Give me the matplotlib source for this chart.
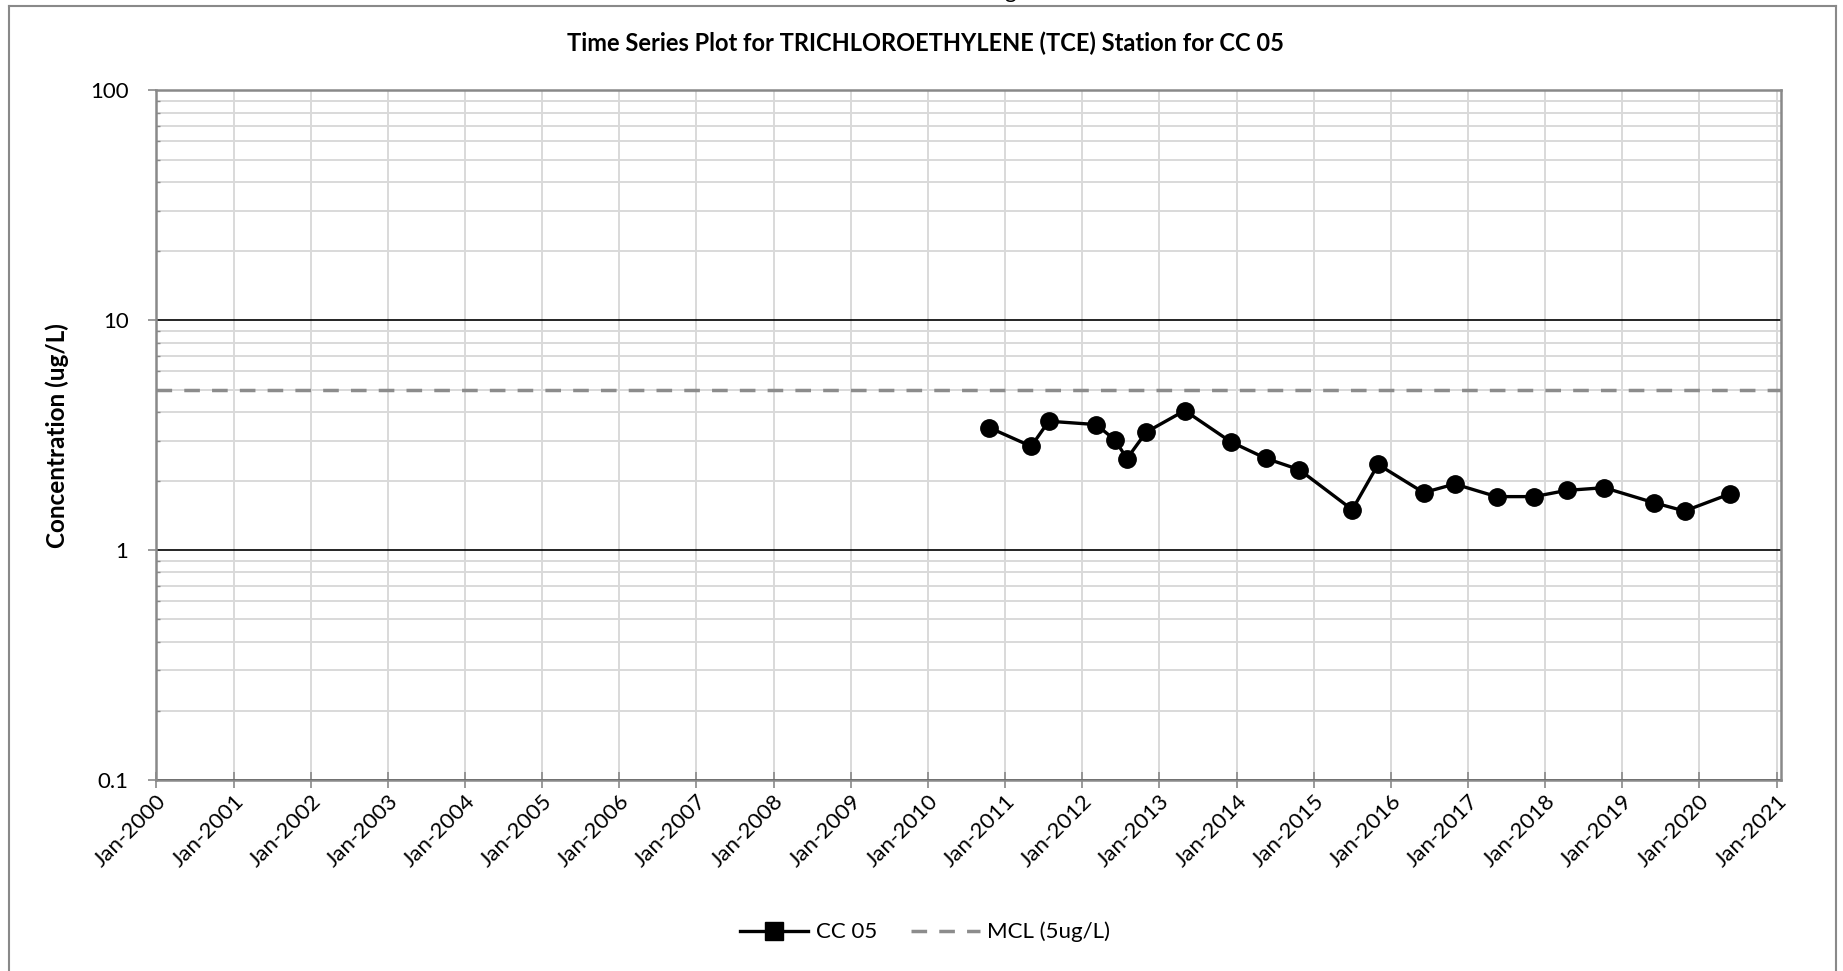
import datetime as dt
import matplotlib
matplotlib.use("Agg")
import matplotlib.pyplot as plt
import matplotlib.dates as mdates
from matplotlib.lines import Line2D
from matplotlib.ticker import FixedLocator, FixedFormatter, LogLocator, NullFormatter

plt.rcParams['font.family'] = ['Lato', 'DejaVu Sans']

# sample data
sample_dates = ['2010-10-19', '2011-05-05', '2011-07-27', '2012-03-07', '2012-06-06',
                '2012-07-31', '2012-10-30', '2013-05-01', '2013-12-05', '2014-05-19',
                '2014-10-25', '2015-07-03', '2015-11-02', '2016-06-05', '2016-10-30',
                '2017-05-16', '2017-11-10', '2018-04-13', '2018-10-08', '2019-05-30',
                '2019-10-23', '2020-05-27']
tce_values = [3.41, 2.83, 3.64, 3.52, 3.01, 2.50, 3.26, 4.05, 2.96, 2.51, 2.24,
              1.50, 2.36, 1.78, 1.94, 1.71, 1.71, 1.82, 1.87, 1.61, 1.48, 1.76]
mcl = 5
y_ticks = [0.1, 1, 10, 100]
y_labels = ['0.1', '1', '10', '100']
years = list(range(2000, 2022))

dates = [dt.datetime.strptime(d, '%Y-%m-%d') for d in sample_dates]

fig = plt.figure(figsize=(18.43, 9.71), dpi=100)
ax = fig.add_axes([0.0848, 0.1967, 0.8816, 0.7101])

ax.set_yscale('log')
ax.set_ylim(0.1, 100)
ax.set_xlim(dt.datetime(2000, 1, 1), dt.datetime(2021, 1, 22))

# grid
ax.yaxis.set_major_locator(FixedLocator(y_ticks))
ax.yaxis.set_major_formatter(FixedFormatter(y_labels))
ax.yaxis.set_minor_locator(LogLocator(base=10, subs=range(2, 10)))
ax.yaxis.set_minor_formatter(NullFormatter())
ax.xaxis.set_major_locator(FixedLocator([mdates.date2num(dt.datetime(y, 1, 1)) for y in years]))
ax.xaxis.set_major_formatter(FixedFormatter(['Jan-%d' % y for y in years]))

ax.grid(axis='x', which='major', color='#d9d9d9', lw=1.4, zorder=0)
ax.grid(axis='y', which='minor', color='#d9d9d9', lw=1.4, zorder=0)
ax.grid(axis='y', which='major', color='black', lw=1.2, zorder=1)
ax.set_axisbelow(True)

ax.axhline(mcl, color='#8c8c8c', lw=2.5, dashes=(4.5, 3.5), zorder=2)
ax.plot(dates, tce_values, color='black', lw=2.4, marker='o', markersize=12.5, zorder=3)

for s in ax.spines.values():
    s.set_color('#898989')
    s.set_linewidth(1.8)

ax.tick_params(axis='x', which='major', direction='inout', length=12, width=1.2,
               color='#898989', labelsize=16, pad=2)
plt.setp(ax.get_xticklabels(), rotation=45, ha='right', rotation_mode='anchor')
ax.tick_params(axis='y', which='major', direction='out', length=6, width=1.2,
               color='#898989', labelsize=16, pad=14)
ax.tick_params(axis='y', which='minor', direction='in', length=3, width=1.0, color='#898989')

ax.set_ylabel('Concentration (ug/L)', fontsize=17.5, fontweight='bold')
ax.yaxis.set_label_coords(-0.054, 0.5)
fig.text(925 / 1843, 1 - 43.5 / 971, 'Time Series Plot for TRICHLOROETHYLENE (TCE) Station for CC 05',
         ha='center', va='center', fontsize=17, fontweight='bold')

# cut-off caption text above the chart
fig.text(1010 / 1843, 1 + 1.5 / 971, 'g', ha='center', va='baseline', fontsize=16)

handles = [Line2D([], [], color='black', lw=2.4, marker='s', markersize=12.5),
           Line2D([], [], color='#8c8c8c', lw=2.5, dashes=(4.5, 3.5))]
fig.legend(handles, ['CC 05', 'MCL (5ug/L)'], loc='center', ncol=2, frameon=False,
           bbox_to_anchor=(925 / 1843, 1 - 932 / 971), fontsize=16,
           handlelength=3.1, columnspacing=1.5, handletextpad=0.35)

# outer chart frame
fc = '#898989'
fig.add_artist(Line2D([9 / 1843, 9 / 1843], [0, 1 - 6 / 971], color=fc, lw=1.5))
fig.add_artist(Line2D([1836 / 1843, 1836 / 1843], [0, 1 - 6 / 971], color=fc, lw=1.5))
fig.add_artist(Line2D([9 / 1843, 1836 / 1843], [1 - 6 / 971, 1 - 6 / 971], color=fc, lw=1.5))

fig.savefig('out.png', dpi=100)
